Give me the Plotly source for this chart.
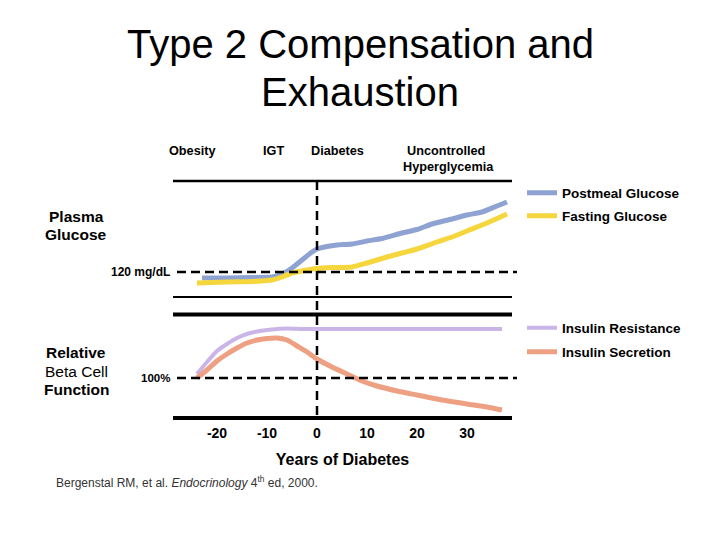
import plotly.graph_objects as go

# ---------------- data ----------------
years_postmeal = [-23, -18, -13, -9, -7, -5, -3, -1, 0, 2, 4, 7, 10, 13, 17, 20, 23, 27, 30, 33, 36, 38]
postmeal_glucose = [108, 108, 109, 110, 116, 128, 144, 160, 166, 171, 174, 176, 182, 187, 198, 205, 216, 226, 234, 240, 252, 260]

years_fasting = [-24, -18, -13, -9, -7, -5, -2, 0, 3, 7, 10, 14, 17, 20, 24, 27, 30, 34, 38]
fasting_glucose = [98, 100, 101, 104, 110, 118, 124, 127, 129, 130, 138, 150, 158, 166, 180, 190, 202, 218, 236]

years_beta = [-24, -22, -20, -18, -16, -14, -12, -10, -8, -6, -4, -2, 0, 3, 6, 9, 12, 16, 20, 25, 30, 34, 37]
insulin_secretion = [100, 116, 134, 148, 160, 170, 176, 179, 180, 176, 164, 152, 138, 122, 108, 94, 84, 74, 66, 56, 48, 42, 36]

years_resist = [-24, -22, -20, -18, -16, -14, -12, -9, -6, -3, 0, 10, 20, 30, 37]
insulin_resistance = [108, 132, 154, 168, 180, 188, 193, 197, 199, 198, 198, 198, 198, 198, 198]

x_ticks = [-20, -10, 0, 10, 20, 30]
x_tick_labels = ["-20", "-10", "0", "10", "20", "30"]
stage_labels = ["Obesity", "IGT", "Diabetes", "Uncontrolled", "Hyperglycemia"]

# ---------------- helpers ----------------
W, H = 720, 540
OFF = 8  # page body margin
def X(px):
    return (px - OFF) / W
def Y(py):
    return 1 - (py - OFF) / H

FONT = "Liberation Sans, Arial, sans-serif"
BLUE = "#8ea3d1"
YELLOW = "#f5d63d"
PURPLE = "#c9b5e8"
ORANGE = "#eea083"

fig = go.Figure()

fig.add_trace(go.Scatter(x=years_postmeal, y=postmeal_glucose, mode="lines", name="Postmeal Glucose",
                         line=dict(color=BLUE, width=5, shape="spline", smoothing=0.6),
                         xaxis="x", yaxis="y", legend="legend"))
fig.add_trace(go.Scatter(x=years_fasting, y=fasting_glucose, mode="lines", name="Fasting Glucose",
                         line=dict(color=YELLOW, width=5, shape="spline", smoothing=0.6),
                         xaxis="x", yaxis="y", legend="legend2"))
fig.add_trace(go.Scatter(x=years_resist, y=insulin_resistance, mode="lines", name="Insulin Resistance",
                         line=dict(color=PURPLE, width=4, shape="spline", smoothing=0.6),
                         xaxis="x", yaxis="y2", legend="legend3"))
fig.add_trace(go.Scatter(x=years_beta, y=insulin_secretion, mode="lines", name="Insulin Secretion",
                         line=dict(color=ORANGE, width=5, shape="spline", smoothing=0.6),
                         xaxis="x", yaxis="y2", legend="legend4"))

legfont = dict(family=FONT, size=13.5, color="#000", weight="bold")
def leg(py):
    return dict(x=X(522), y=Y(py), xanchor="left", yanchor="middle", font=legfont,
                bgcolor="rgba(0,0,0,0)", borderwidth=0, itemwidth=30)

fig.update_layout(
    width=W, height=H,
    margin=dict(l=0, r=0, t=0, b=0),
    paper_bgcolor="white", plot_bgcolor="rgba(0,0,0,0)",
    showlegend=True,
    legend=leg(193), legend2=leg(216), legend3=leg(328), legend4=leg(352),
    xaxis=dict(domain=[X(173), X(512)], range=[-28.8, 39], anchor="y2",
               tickvals=x_ticks, ticktext=x_tick_labels,
               showgrid=False, zeroline=False, showline=False, ticks="", ticklabelstandoff=5,
               tickfont=dict(family=FONT, size=14, color="#000", weight="bold"),
               title=dict(text="Years of Diabetes", standoff=13,
                          font=dict(family=FONT, size=16, color="#000", weight="bold"))),
    yaxis=dict(domain=[Y(297), Y(181)], range=[70, 302], visible=False, anchor="x"),
    yaxis2=dict(domain=[Y(418), Y(314)], range=[20, 228], visible=False, anchor="x"),
)

shapes = []
# panel frame lines
shapes.append(dict(type="line", xref="paper", yref="paper", x0=X(173), x1=X(512), y0=Y(181), y1=Y(181),
                   line=dict(color="black", width=2.5)))
shapes.append(dict(type="line", xref="paper", yref="paper", x0=X(173), x1=X(512), y0=Y(297), y1=Y(297),
                   line=dict(color="black", width=2)))
shapes.append(dict(type="line", xref="paper", yref="paper", x0=X(173), x1=X(512), y0=Y(314.5), y1=Y(314.5),
                   line=dict(color="black", width=4)))
shapes.append(dict(type="line", xref="paper", yref="paper", x0=X(173), x1=X(512), y0=Y(418), y1=Y(418),
                   line=dict(color="black", width=4)))
# diagnosis line
shapes.append(dict(type="line", xref="x", yref="paper", x0=0, x1=0, y0=Y(181), y1=Y(419),
                   line=dict(color="black", width=2.5, dash="9px,6px")))
# thresholds
shapes.append(dict(type="line", xref="paper", yref="y", x0=X(177), x1=X(517), y0=120, y1=120,
                   line=dict(color="black", width=2.3, dash="9px,5px")))
shapes.append(dict(type="line", xref="paper", yref="y2", x0=X(177), x1=X(517), y0=100, y1=100,
                   line=dict(color="black", width=2.3, dash="9px,5px")))
fig.update_layout(shapes=shapes)

ann = []
def text(t, px, py, size, bold=True, xanchor="center", color="#000"):
    ann.append(dict(text=t, x=X(px), y=Y(py), xref="paper", yref="paper", showarrow=False,
                    xanchor=xanchor, yanchor="middle", align="center",
                    font=dict(family=FONT, size=size, color=color, weight="bold" if bold else "normal")))

# title
text("Type 2 Compensation and", 360, 44, 40, bold=False)
text("Exhaustion", 360, 92, 40, bold=False)

# stage headers
text(stage_labels[0], 193, 151, 12.7)
text(stage_labels[1], 273, 151, 12.7)
text(stage_labels[2], 337, 151, 12.7)
text(stage_labels[3], 446, 151, 12.7)
text(stage_labels[4], 448, 167, 12.7)

# left labels
text("Plasma", 76, 216, 15.5)
text("Glucose", 76, 234, 15.5)
text("Relative", 76, 352, 15.5)
text("Beta Cell", 76, 371, 15.5, bold=False)
text("Function", 76, 389, 15.5)
text("120 mg/dL", 172, 272, 12, xanchor="right")
text("100%", 172, 378, 11.5, xanchor="right")

# citation
text("Bergenstal RM, et al. <i>Endocrinology</i> 4<sup>th</sup> ed, 2000.", 54, 482, 12, bold=False,
     xanchor="left", color="#333")

fig.update_layout(annotations=ann)

fig.write_html("out.html")
